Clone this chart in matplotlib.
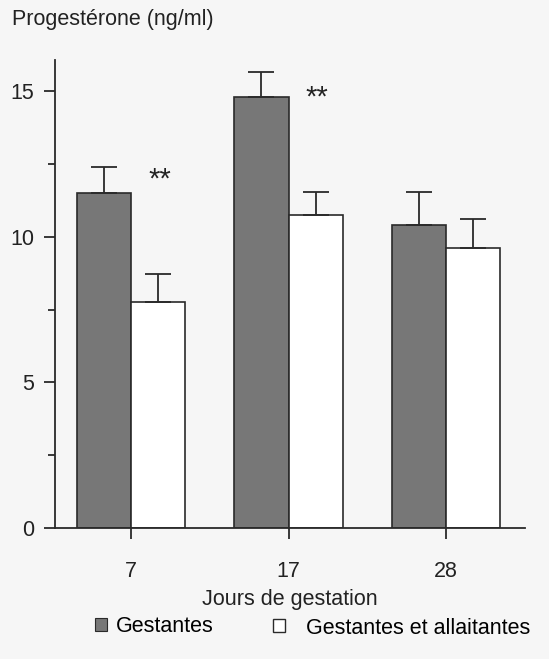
import matplotlib
matplotlib.use("Agg")
import matplotlib.pyplot as plt
from matplotlib.patches import Patch
import numpy as np

plt.rcParams['font.family'] = ['Liberation Sans', 'DejaVu Sans']

days = ["7", "17", "28"]
gestantes = [11.5, 14.8, 10.4]
gestantes_err = [0.9, 0.87, 1.13]
allaitantes = [7.77, 10.75, 9.63]
allaitantes_err = [0.96, 0.78, 0.97]
signif = ["**", "**", ""]
signif_y = [11.97, 14.79, 0]
series_labels = ["Gestantes", "Gestantes et allaitantes"]
ylabel = "Progestérone (ng/ml)"
xlabel = "Jours de gestation"

bg = '#f6f6f6'
dark = '#777777'
edge = '#2a2a2a'
txt = '#222222'
fs = 15.5

fig = plt.figure(figsize=(5.49, 6.59), dpi=100, facecolor=bg)
ax = fig.add_axes([55/549, 1-528/659, (525-55)/549, (528-60)/659])
ax.set_facecolor(bg)

x = np.arange(len(days))
w = 0.343
ekw = dict(elinewidth=1.3, ecolor=edge, capthick=1.3)
ax.bar(x - w/2, gestantes, width=w, color=dark, edgecolor=edge, linewidth=1.2,
       yerr=[np.zeros(3), gestantes_err], capsize=9.7, error_kw=ekw, zorder=2)
ax.bar(x + w/2, allaitantes, width=w, color='white', edgecolor=edge, linewidth=1.2,
       yerr=[np.zeros(3), allaitantes_err], capsize=9.7, error_kw=ekw, zorder=2)

for i, s in enumerate(signif):
    if s:
        ax.text(x[i] + 0.18, signif_y[i], s, ha='center', va='center',
                fontsize=21, color=txt)

ax.set_xlim((55-131)/157.5, (525-131)/157.5)
ax.set_ylim(0, 16.07)
ax.set_xticks(x)
ax.set_xticklabels(days)
ax.set_yticks([0, 5, 10, 15])
ax.set_yticks([2.5, 7.5, 12.5], minor=True)
ax.tick_params(axis='both', which='major', length=8, width=1.3, color=edge,
               labelsize=fs, labelcolor=txt)
ax.tick_params(axis='y', which='major', pad=7)
ax.tick_params(axis='x', which='major', pad=16)
ax.tick_params(axis='y', which='minor', length=5, width=1.3, color=edge)
for sp in ['top', 'right']:
    ax.spines[sp].set_visible(False)
for sp in ['left', 'bottom']:
    ax.spines[sp].set_linewidth(1.3)
    ax.spines[sp].set_color(edge)

fig.text(12/549, 1-20/659, ylabel, ha='left', va='center', fontsize=fs, color=txt)
fig.text(290/549, 1-599/659, xlabel, ha='center', va='center', fontsize=fs, color=txt)

h1 = Patch(facecolor=dark, edgecolor=edge, linewidth=0.8)
h2 = Patch(facecolor='white', edgecolor=edge, linewidth=1.0)
l1 = fig.legend([h1], [series_labels[0]], loc='center left', bbox_to_anchor=(95/549, 1-627/659),
                frameon=False, fontsize=fs, handlelength=0.55, handleheight=0.55,
                handletextpad=0.42, borderpad=0, borderaxespad=0)
l2 = fig.legend([h2], [series_labels[1]], loc='center left', bbox_to_anchor=(273/549, 1-628/659),
                frameon=False, fontsize=fs, handlelength=0.55, handleheight=0.55,
                handletextpad=1.0, borderpad=0, borderaxespad=0)

fig.savefig('out.png', dpi=100, facecolor=bg)
